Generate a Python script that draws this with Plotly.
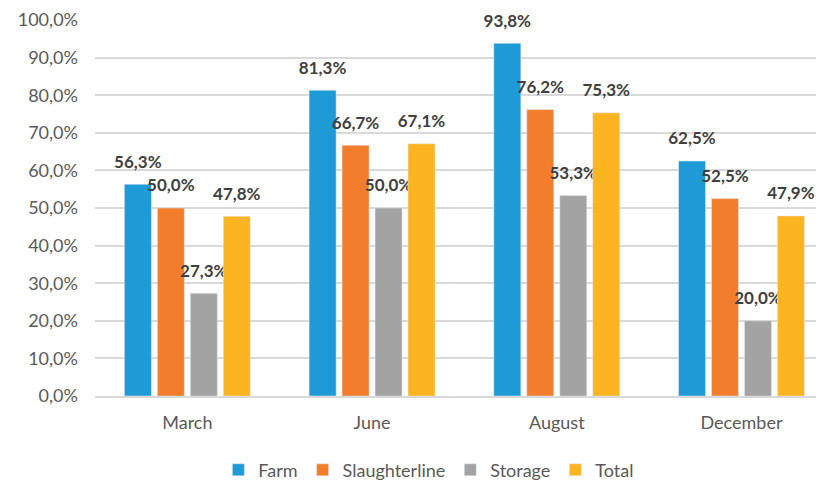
import plotly.graph_objects as go

categories = ["March", "June", "August", "December"]
farm = [56.3, 81.3, 93.8, 62.5]
slaughterline = [50.0, 66.7, 76.2, 52.5]
storage = [27.3, 50.0, 53.3, 20.0]
total = [47.8, 67.1, 75.3, 47.9]

series = [
    ("Farm", farm, "#1e9bd7"),
    ("Slaughterline", slaughterline, "#f27e2d"),
    ("Storage", storage, "#a3a3a3"),
    ("Total", total, "#fcb520"),
]

fig = go.Figure()
for name, vals, color in series:
    fig.add_trace(go.Bar(
        name=name, x=categories, y=vals, marker_color=color,
        texttemplate="<span style='font-size:17px'>%{y:.1f}%</span><br> ",
        textposition="outside",
        textfont=dict(family="Lato", size=9, color="#404040", weight="bold"),
        constraintext="none", cliponaxis=False,
    ))

fig.update_layout(
    width=824, height=486,
    margin=dict(l=87, r=0, t=12, b=98),
    paper_bgcolor="white", plot_bgcolor="white",
    separators=",.",
    barmode="group", bargap=0.286, bargroupgap=0.18,
    font=dict(family="Lato", color="#595959"),
    showlegend=True,
    legend=dict(orientation="h", x=0.453, xanchor="center", y=-0.197, yanchor="middle",
                font=dict(size=18, color="#595959"), itemwidth=30, traceorder="normal"),
    xaxis=dict(range=[-0.5, 3.49], showgrid=False, showline=True, linecolor="#d9d9d9",
               linewidth=1.5, tickfont=dict(size=18, color="#595959"), ticklabelstandoff=10),
    yaxis=dict(range=[0, 100], dtick=10, tickformat=".1f", ticksuffix="%",
               showgrid=True, gridcolor="#d9d9d9", gridwidth=1.5, zeroline=False,
               tickfont=dict(size=18, color="#595959"), ticklabelstandoff=16),
)

fig.write_html("out.html")
